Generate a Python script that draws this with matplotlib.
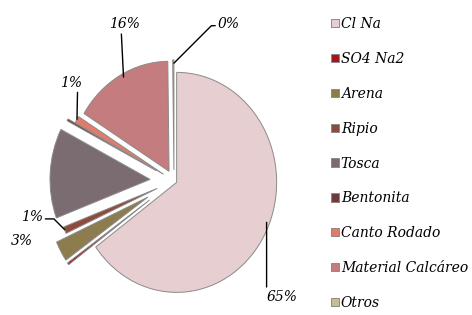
import numpy as np
import matplotlib
matplotlib.use("Agg")
import matplotlib.pyplot as plt

# Composición (%)
componentes = ["Cl Na", "SO4 Na2", "Arena", "Ripio", "Tosca", "Bentonita",
               "Canto Rodado", "Material Calcáreo", "Otros"]
porcentajes = [65.0, 0.3, 3.0, 1.0, 13.2, 0.3, 1.0, 16.0, 0.2]
etiquetas = ["65%", "", "3%", "1%", "", "", "1%", "16%", "0%"]

colores = ["#E6CED1", "#A3161A", "#8C7C4E", "#8E4A3C", "#7B6C72",
           "#6E3A3C", "#E47A68", "#C47C7E", "#C9BC94"]
explode = [0.03, 0.3, 0.3, 0.18, 0.24, 0.2, 0.12, 0.1, 0.1]

plt.rcParams['font.family'] = ['DejaVu Serif']

fig = plt.figure(figsize=(4.72, 3.15), dpi=100)
ax = fig.add_axes([0.0508, -0.098, 0.6356, 1.0476])

wedges, _ = ax.pie(porcentajes, colors=colores, explode=explode,
                   startangle=90, counterclock=False, radius=1.0,
                   wedgeprops=dict(edgecolor="#8a8a8a", linewidth=0.7))
ax.set_xlim(-1.5, 1.5)
ax.set_ylim(-1.5, 1.5)
ax.set_aspect("auto")
ax.axis("off")


def punto(w, ang, rf=0.97):
    cx, cy = w.center
    a = np.deg2rad(ang)
    return cx + rf * w.r * np.cos(a), cy + rf * w.r * np.sin(a)


estilo_txt = dict(fontsize=10, style="italic")
linea = dict(arrowstyle="-", color="black", lw=1.0, shrinkA=0, shrinkB=0)

# 65% (Cl Na)
xy = punto(wedges[0], -22)
ax.annotate(etiquetas[0], xy=xy, xytext=(xy[0], -0.99), ha="left", va="top",
            arrowprops=dict(relpos=(0, 1), **linea), **estilo_txt)

# 16% (Material Calcáreo)
xy = punto(wedges[7], 118)
ax.annotate(etiquetas[7], xy=xy, xytext=(xy[0] - 0.14, 1.36), ha="left",
            va="bottom", arrowprops=dict(relpos=(0.38, 0), **linea),
            **estilo_txt)

# 0% (Otros)
xy = punto(wedges[8], 90)
ax.annotate(etiquetas[8], xy=xy, xytext=(0.44, 1.43), ha="left", va="center",
            arrowprops=dict(relpos=(0, 0.35),
                            connectionstyle="angle,angleA=180,angleB=45",
                            **linea), **estilo_txt)

# 1% (Canto Rodado)
xy = punto(wedges[6], 150, 1.0)
ax.annotate(etiquetas[6], xy=xy, xytext=(xy[0] - 0.17, 0.83), ha="left",
            va="bottom", arrowprops=dict(relpos=(0.8, 0), **linea),
            **estilo_txt)

# 1% (Ripio)
xy = punto(wedges[3], 202, 1.0)
ax.annotate(etiquetas[3], xy=xy, xytext=(xy[0] - 0.22, xy[1] + 0.11),
            ha="right", va="center",
            arrowprops=dict(relpos=(1, 0.4),
                            connectionstyle="angle,angleA=0,angleB=135",
                            **linea), **estilo_txt)

# 3% (Arena)
xy = punto(wedges[2], 209.5, 1.0)
ax.text(xy[0] - 0.5, xy[1] + 0.09, etiquetas[2], ha="left", va="center",
        **estilo_txt)

fig.legend(wedges, componentes, loc="upper left",
           bbox_to_anchor=(0.675, 0.985), frameon=False,
           prop=dict(family="DejaVu Serif", style="italic", size=10),
           handlelength=0.55, handleheight=0.55, handletextpad=0.15,
           labelspacing=1.5)

fig.savefig("out.png", dpi=100)
